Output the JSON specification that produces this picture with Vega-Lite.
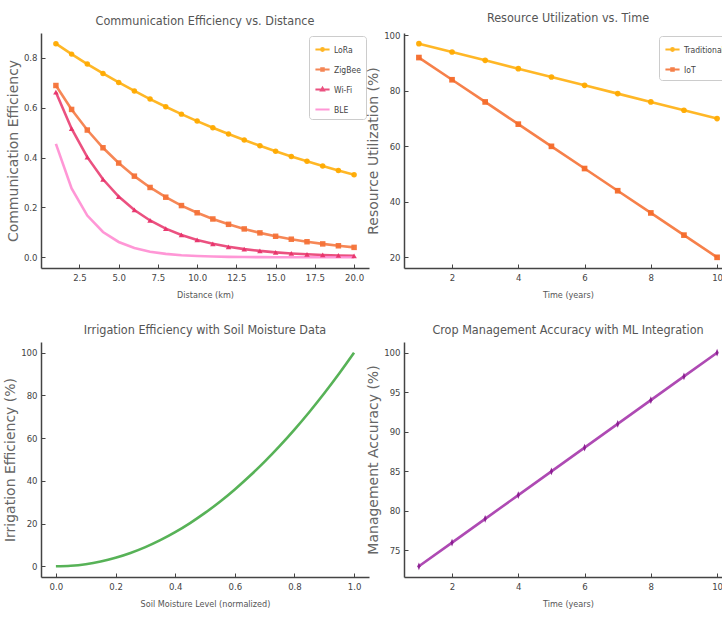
{
  "$schema": "https://vega.github.io/schema/vega-lite/v6.json",
  "padding": {"left": 3, "top": 11, "right": 0, "bottom": 0},
  "background": "white",
  "datasets": {
    "comm": [
      {"d":1,"series":"LoRa","v":0.85611},{"d":2,"series":"LoRa","v":0.81435},{"d":3,"series":"LoRa","v":0.77464},{"d":4,"series":"LoRa","v":0.73686},{"d":5,"series":"LoRa","v":0.70092},{"d":6,"series":"LoRa","v":0.66674},{"d":7,"series":"LoRa","v":0.63422},{"d":8,"series":"LoRa","v":0.60329},{"d":9,"series":"LoRa","v":0.57387},{"d":10,"series":"LoRa","v":0.54588},{"d":11,"series":"LoRa","v":0.51926},{"d":12,"series":"LoRa","v":0.49393},{"d":13,"series":"LoRa","v":0.46984},{"d":14,"series":"LoRa","v":0.44693},{"d":15,"series":"LoRa","v":0.42513},{"d":16,"series":"LoRa","v":0.4044},{"d":17,"series":"LoRa","v":0.38467},{"d":18,"series":"LoRa","v":0.36591},{"d":19,"series":"LoRa","v":0.34807},{"d":20,"series":"LoRa","v":0.33109},
      {"d":1,"series":"ZigBee","v":0.68857},{"d":2,"series":"ZigBee","v":0.59265},{"d":3,"series":"ZigBee","v":0.5101},{"d":4,"series":"ZigBee","v":0.43905},{"d":5,"series":"ZigBee","v":0.37789},{"d":6,"series":"ZigBee","v":0.32526},{"d":7,"series":"ZigBee","v":0.27995},{"d":8,"series":"ZigBee","v":0.24096},{"d":9,"series":"ZigBee","v":0.20739},{"d":10,"series":"ZigBee","v":0.1785},{"d":11,"series":"ZigBee","v":0.15364},{"d":12,"series":"ZigBee","v":0.13224},{"d":13,"series":"ZigBee","v":0.11382},{"d":14,"series":"ZigBee","v":0.09796},{"d":15,"series":"ZigBee","v":0.08432},{"d":16,"series":"ZigBee","v":0.07257},{"d":17,"series":"ZigBee","v":0.06247},{"d":18,"series":"ZigBee","v":0.05376},{"d":19,"series":"ZigBee","v":0.04628},{"d":20,"series":"ZigBee","v":0.03983},
      {"d":1,"series":"Wi-Fi","v":0.66198},{"d":2,"series":"Wi-Fi","v":0.51555},{"d":3,"series":"Wi-Fi","v":0.40151},{"d":4,"series":"Wi-Fi","v":0.3127},{"d":5,"series":"Wi-Fi","v":0.24353},{"d":6,"series":"Wi-Fi","v":0.18966},{"d":7,"series":"Wi-Fi","v":0.14771},{"d":8,"series":"Wi-Fi","v":0.11503},{"d":9,"series":"Wi-Fi","v":0.08959},{"d":10,"series":"Wi-Fi","v":0.06977},{"d":11,"series":"Wi-Fi","v":0.05434},{"d":12,"series":"Wi-Fi","v":0.04232},{"d":13,"series":"Wi-Fi","v":0.03296},{"d":14,"series":"Wi-Fi","v":0.02567},{"d":15,"series":"Wi-Fi","v":0.01999},{"d":16,"series":"Wi-Fi","v":0.01557},{"d":17,"series":"Wi-Fi","v":0.01212},{"d":18,"series":"Wi-Fi","v":0.00944},{"d":19,"series":"Wi-Fi","v":0.00735},{"d":20,"series":"Wi-Fi","v":0.00573},
      {"d":1,"series":"BLE","v":0.4549},{"d":2,"series":"BLE","v":0.27591},{"d":3,"series":"BLE","v":0.16735},{"d":4,"series":"BLE","v":0.1015},{"d":5,"series":"BLE","v":0.06156},{"d":6,"series":"BLE","v":0.03734},{"d":7,"series":"BLE","v":0.02265},{"d":8,"series":"BLE","v":0.01374},{"d":9,"series":"BLE","v":0.00833},{"d":10,"series":"BLE","v":0.00505},{"d":11,"series":"BLE","v":0.00307},{"d":12,"series":"BLE","v":0.00186},{"d":13,"series":"BLE","v":0.00113},{"d":14,"series":"BLE","v":0.00068},{"d":15,"series":"BLE","v":0.00041},{"d":16,"series":"BLE","v":0.00025},{"d":17,"series":"BLE","v":0.00015},{"d":18,"series":"BLE","v":0.00009},{"d":19,"series":"BLE","v":0.00006},{"d":20,"series":"BLE","v":0.00003}
    ],
    "res": [
      {"t":1,"series":"Traditional","v":97},{"t":2,"series":"Traditional","v":94},{"t":3,"series":"Traditional","v":91},{"t":4,"series":"Traditional","v":88},{"t":5,"series":"Traditional","v":85},{"t":6,"series":"Traditional","v":82},{"t":7,"series":"Traditional","v":79},{"t":8,"series":"Traditional","v":76},{"t":9,"series":"Traditional","v":73},{"t":10,"series":"Traditional","v":70},
      {"t":1,"series":"IoT","v":92},{"t":2,"series":"IoT","v":84},{"t":3,"series":"IoT","v":76},{"t":4,"series":"IoT","v":68},{"t":5,"series":"IoT","v":60},{"t":6,"series":"IoT","v":52},{"t":7,"series":"IoT","v":44},{"t":8,"series":"IoT","v":36},{"t":9,"series":"IoT","v":28},{"t":10,"series":"IoT","v":20}
    ],
    "irr": [
      {"m":0,"e":0},{"m":0.05,"e":0.25},{"m":0.1,"e":1},{"m":0.15,"e":2.25},{"m":0.2,"e":4},{"m":0.25,"e":6.25},{"m":0.3,"e":9},{"m":0.35,"e":12.25},{"m":0.4,"e":16},{"m":0.45,"e":20.25},{"m":0.5,"e":25},{"m":0.55,"e":30.25},{"m":0.6,"e":36},{"m":0.65,"e":42.25},{"m":0.7,"e":49},{"m":0.75,"e":56.25},{"m":0.8,"e":64},{"m":0.85,"e":72.25},{"m":0.9,"e":81},{"m":0.95,"e":90.25},{"m":1,"e":100}
    ],
    "crop": [
      {"t":1,"a":73},{"t":2,"a":76},{"t":3,"a":79},{"t":4,"a":82},{"t":5,"a":85},{"t":6,"a":88},{"t":7,"a":91},{"t":8,"a":94},{"t":9,"a":97},{"t":10,"a":100}
    ]
  },
  "vconcat": [
    {
      "hconcat": [
        {
          "width": 328, "height": 235,
          "title": "Communication Efficiency vs. Distance",
          "data": {"name": "comm"},
          "layer": [
            {
              "mark": {"type": "line", "strokeWidth": 2.6, "opacity": 0.85},
              "encoding": {
                "x": {"field": "d", "type": "quantitative", "scale": {"domain": [0.05, 20.95], "nice": false, "zero": false}, "axis": {"values": [2.5,5,7.5,10,12.5,15,17.5,20], "format": ".1f", "title": "Distance (km)"}},
                "y": {"field": "v", "type": "quantitative", "scale": {"domain": [-0.0428, 0.899], "nice": false, "zero": false}, "axis": {"values": [0,0.2,0.4,0.6,0.8], "format": ".1f", "title": "Communication Efficiency"}},
                "color": {"field": "series", "type": "nominal", "sort": null, "scale": {"domain": ["LoRa","ZigBee","Wi-Fi","BLE"], "range": ["#ffaa00","#f47238","#e8336a","#ff85cf"]}}
              }
            },
            {
              "transform": [{"filter": "datum.series === 'LoRa'"}],
              "mark": {"type": "point", "filled": true, "size": 30, "opacity": 0.95, "color": "#ffaa00", "shape": "circle"},
              "encoding": {"x": {"field": "d", "type": "quantitative"}, "y": {"field": "v", "type": "quantitative"}}
            },
            {
              "transform": [{"filter": "datum.series === 'ZigBee'"}],
              "mark": {"type": "point", "filled": true, "size": 30, "opacity": 0.95, "color": "#f47238", "shape": "square"},
              "encoding": {"x": {"field": "d", "type": "quantitative"}, "y": {"field": "v", "type": "quantitative"}}
            },
            {
              "transform": [{"filter": "datum.series === 'Wi-Fi'"}],
              "mark": {"type": "point", "filled": true, "size": 30, "opacity": 0.95, "color": "#e8336a", "shape": "triangle-up"},
              "encoding": {"x": {"field": "d", "type": "quantitative"}, "y": {"field": "v", "type": "quantitative"}}
            },
            {
              "transform": [{"filter": "false"}],
              "mark": {"type": "point", "filled": false, "opacity": 0.9},
              "encoding": {
                "x": {"field": "d", "type": "quantitative"},
                "y": {"field": "v", "type": "quantitative"},
                "color": {"field": "series", "type": "nominal", "sort": null, "scale": {"domain": ["LoRa","ZigBee","Wi-Fi","BLE"], "range": ["#ffaa00","#f47238","#e8336a","#ff85cf"]}, "legend": {"title": null, "orient": "top-right", "offset": 3}},
                "shape": {"field": "series", "type": "nominal", "sort": null, "scale": {"domain": ["LoRa","ZigBee","Wi-Fi","BLE"], "range": ["M-1,0H1M0.2,0A0.2,0.2,0,1,1,-0.2,0A0.2,0.2,0,1,1,0.2,0", "M-1,0H1M-0.18,-0.18H0.18V0.18H-0.18Z", "M-1,0H1M0,-0.25L0.22,0.15H-0.22Z", "M-1,0H1"]}, "legend": {"title": null, "orient": "top-right", "offset": 3}}
              }
            }
          ]
        },
        {
          "width": 328, "height": 235,
          "title": "Resource Utilization vs. Time",
          "data": {"name": "res"},
          "layer": [
            {
              "mark": {"type": "line", "strokeWidth": 2.6, "opacity": 0.85},
              "encoding": {
                "x": {"field": "t", "type": "quantitative", "scale": {"domain": [0.55, 10.45], "nice": false, "zero": false}, "axis": {"values": [2,4,6,8,10], "title": "Time (years)"}},
                "y": {"field": "v", "type": "quantitative", "scale": {"domain": [16.15, 100.85], "nice": false, "zero": false}, "axis": {"values": [20,40,60,80,100], "title": "Resource Utilization (%)"}},
                "color": {"field": "series", "type": "nominal", "sort": null, "scale": {"domain": ["Traditional","IoT"], "range": ["#ffaa00","#f46a2a"]}}
              }
            },
            {
              "transform": [{"filter": "datum.series === 'Traditional'"}],
              "mark": {"type": "point", "filled": true, "size": 32, "opacity": 0.95, "color": "#ffaa00", "shape": "circle"},
              "encoding": {"x": {"field": "t", "type": "quantitative"}, "y": {"field": "v", "type": "quantitative"}}
            },
            {
              "transform": [{"filter": "datum.series === 'IoT'"}],
              "mark": {"type": "point", "filled": true, "size": 32, "opacity": 0.95, "color": "#f46a2a", "shape": "square"},
              "encoding": {"x": {"field": "t", "type": "quantitative"}, "y": {"field": "v", "type": "quantitative"}}
            },
            {
              "transform": [{"filter": "false"}],
              "mark": {"type": "point", "filled": false, "opacity": 0.9},
              "encoding": {
                "x": {"field": "t", "type": "quantitative"},
                "y": {"field": "v", "type": "quantitative"},
                "color": {"field": "series", "type": "nominal", "sort": null, "scale": {"domain": ["Traditional","IoT"], "range": ["#ffaa00","#f46a2a"]}, "legend": {"title": null, "orient": "top-right", "offset": 3}},
                "shape": {"field": "series", "type": "nominal", "sort": null, "scale": {"domain": ["Traditional","IoT"], "range": ["M-1,0H1M0.2,0A0.2,0.2,0,1,1,-0.2,0A0.2,0.2,0,1,1,0.2,0", "M-1,0H1M-0.18,-0.18H0.18V0.18H-0.18Z"]}, "legend": {"title": null, "orient": "top-right", "offset": 3}}
              }
            }
          ]
        }
      ],
      "spacing": -3,
      "resolve": {"scale": {"color": "independent", "shape": "independent"}, "legend": {"color": "independent", "shape": "independent"}}
    },
    {
      "hconcat": [
        {
          "width": 328, "height": 235,
          "title": "Irrigation Efficiency with Soil Moisture Data",
          "data": {"name": "irr"},
          "mark": {"type": "line", "strokeWidth": 2.6, "opacity": 0.85, "color": "#3aa53a", "interpolate": "monotone"},
          "encoding": {
            "x": {"field": "m", "type": "quantitative", "scale": {"domain": [-0.05, 1.05], "nice": false, "zero": false}, "axis": {"values": [0,0.2,0.4,0.6,0.8,1], "format": ".1f", "title": "Soil Moisture Level (normalized)"}},
            "y": {"field": "e", "type": "quantitative", "scale": {"domain": [-5, 105], "nice": false, "zero": false}, "axis": {"values": [0,20,40,60,80,100], "title": "Irrigation Efficiency (%)"}}
          }
        },
        {
          "width": 328, "height": 235,
          "title": "Crop Management Accuracy with ML Integration",
          "data": {"name": "crop"},
          "layer": [
            {
              "mark": {"type": "line", "strokeWidth": 2.6, "opacity": 0.85, "color": "#a02aa6"},
              "encoding": {
                "x": {"field": "t", "type": "quantitative", "scale": {"domain": [0.55, 10.45], "nice": false, "zero": false}, "axis": {"values": [2,4,6,8,10], "title": "Time (years)"}},
                "y": {"field": "a", "type": "quantitative", "scale": {"domain": [71.65, 101.35], "nice": false, "zero": false}, "axis": {"values": [75,80,85,90,95,100], "title": "Management Accuracy (%)"}}
              }
            },
            {
              "mark": {"type": "point", "filled": true, "size": 60, "opacity": 0.95, "color": "#8a1a90", "shape": "M0,-1L0.4,0L0,1L-0.4,0Z"},
              "encoding": {
                "x": {"field": "t", "type": "quantitative"},
                "y": {"field": "a", "type": "quantitative"}
              }
            }
          ]
        }
      ],
      "spacing": -3
    }
  ],
  "spacing": 23,
  "resolve": {"scale": {"color": "independent", "shape": "independent"}, "legend": {"color": "independent", "shape": "independent"}},
  "config": {
    "view": {"stroke": null},
    "font": "DejaVu Sans Condensed, Liberation Sans, sans-serif",
    "title": {"fontSize": 12.5, "fontWeight": "normal", "color": "#555555", "offset": 6},
    "axis": {"grid": false, "domainColor": "#444444", "domainWidth": 1.5, "tickColor": "#444444", "tickSize": -4, "tickWidth": 1, "labelPadding": 8, "labelFontSize": 9.5, "labelColor": "#444444", "titleFontWeight": "normal", "titleColor": "#555555"},
    "axisX": {"titleFontSize": 9, "titlePadding": 9},
    "axisY": {"titleFont": "DejaVu Sans", "titleFontSize": 14, "titlePadding": 3, "titleColor": "#666666"},
    "legend": {"fillColor": "white", "strokeColor": "#cccccc", "cornerRadius": 3, "padding": 5, "labelFontSize": 8.5, "labelColor": "#444444", "symbolStrokeWidth": 2, "symbolSize": 200, "rowPadding": 6, "labelOffset": 3}
  }
}
